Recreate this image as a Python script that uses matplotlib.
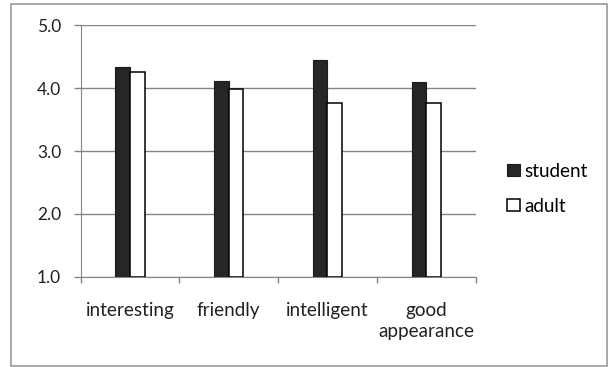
import matplotlib
matplotlib.use("Agg")
import matplotlib.pyplot as plt
import numpy as np
from matplotlib.patches import Rectangle

categories = ["interesting", "friendly", "intelligent", "good\nappearance"]
student = [4.33, 4.12, 4.44, 4.10]
adult = [4.26, 3.98, 3.76, 3.76]
y_ticks = [1.0, 2.0, 3.0, 4.0, 5.0]

plt.rcParams["font.family"] = ["Lato", "DejaVu Sans"]
fs = 13.6

fig = plt.figure(figsize=(6.09, 3.67), dpi=100)
ax = fig.add_axes([0.1322, 0.2458, 0.6489, 0.6855])

# outer chart frame
fig.patches.append(Rectangle((0.018, 0.003), 0.979, 0.986, transform=fig.transFigure,
                             fill=False, edgecolor="#9a9a9a", linewidth=1.2))

x = np.arange(len(categories))
w = 0.149
ax.bar(x - w / 2, np.array(student) - 1.0, w, bottom=1.0, color="#262626",
       edgecolor="#1a1a1a", linewidth=0.8, label="student", zorder=3)
ax.bar(x + w / 2, np.array(adult) - 1.0, w, bottom=1.0, color="white",
       edgecolor="black", linewidth=1.1, label="adult", zorder=3)

ax.set_xlim(-0.5, len(categories) - 0.5)
ax.set_ylim(1.0, 5.0)
ax.set_yticks(y_ticks)
ax.set_yticklabels([f"{v:.1f}" for v in y_ticks])
ax.yaxis.grid(True, color="#858585", linewidth=1.0, zorder=0)

ax.set_xticks(x)
ax.set_xticklabels(categories, linespacing=1.25)
ax.tick_params(axis="x", length=0, pad=18.5, labelsize=fs, colors="#222222")
ax.set_xticks(np.arange(len(categories) + 1) - 0.5, minor=True)
ax.tick_params(axis="x", which="minor", length=4.5, color="#858585", width=1.0)
ax.tick_params(axis="y", length=5, color="#858585", width=1.0, pad=9,
               labelsize=12.5, labelcolor="#222222")

for side in ["top", "right"]:
    ax.spines[side].set_visible(False)
ax.spines["left"].set_color("#858585")
ax.spines["bottom"].set_color("#858585")

ax.legend(loc="center left", bbox_to_anchor=(1.079, 0.35), frameon=False,
          fontsize=fs, handlelength=0.7, handleheight=0.55, handletextpad=0.2,
          labelspacing=0.95, borderpad=0, borderaxespad=0)

fig.savefig("out.png", dpi=100)
